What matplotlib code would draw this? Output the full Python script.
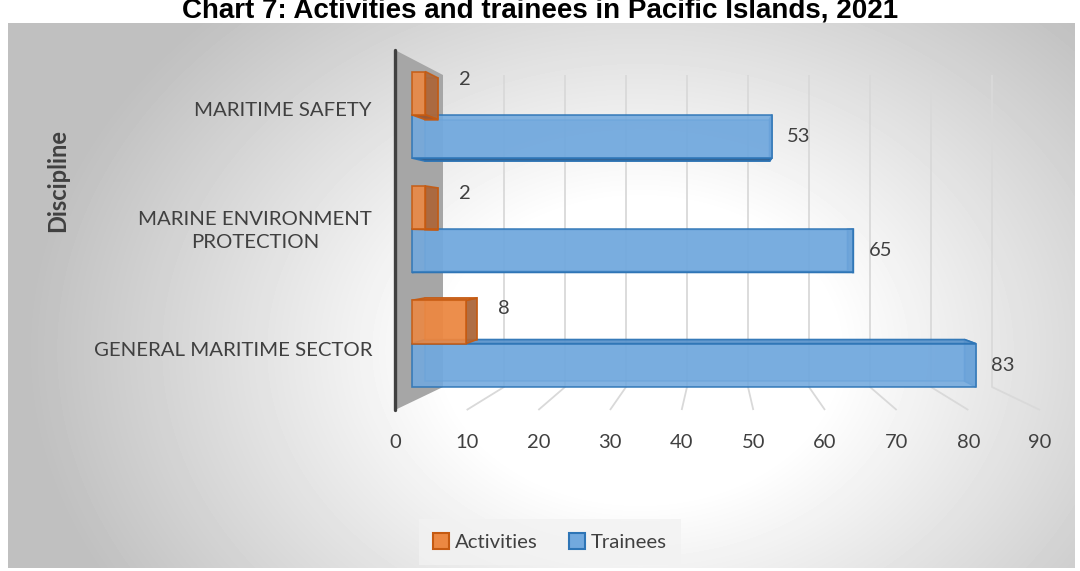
import numpy as np
import matplotlib.pyplot as plt
from matplotlib.patches import Polygon, Patch

# data
categories = ["GENERAL MARITIME SECTOR", "MARINE ENVIRONMENT\nPROTECTION", "MARITIME SAFETY"]
activities = [8, 2, 2]
trainees = [83, 65, 53]
series_names = ["Activities", "Trainees"]
x_ticks = [0, 10, 20, 30, 40, 50, 60, 70, 80, 90]
title = "Chart 7: Activities and trainees in Pacific Islands, 2021"

plt.rcParams['font.family'] = ['Lato', 'DejaVu Sans']

W, H = 1080, 571
fig = plt.figure(figsize=(W / 100, H / 100), dpi=100)
ax = fig.add_axes([0, 0, 1, 1])
ax.set_xlim(0, W)
ax.set_ylim(H, 0)
ax.axis('off')

# chart area with radial grey gradient
gx0, gx1, gy0, gy1 = 8, 1075, 23, 568
yy, xx = np.mgrid[gy0:gy1, gx0:gx1]
r = np.sqrt(((xx - 640) / 560.0) ** 2 + ((yy - 350) / 430.0) ** 2)
shade = 1.0 - 0.25 * np.clip((r - 0.35) / 0.75, 0, 1)
ax.imshow(shade, cmap='gray', vmin=0, vmax=1, extent=[gx0, gx1, gy1, gy0],
          aspect='auto', zorder=0, interpolation='bilinear')
ax.set_xlim(0, W)
ax.set_ylim(H, 0)

XMAX = x_ticks[-1]


def proj(v, u, d):
    # v = value, u = 0..1 along the category axis, d = depth (0 front, 1 back)
    x0 = 395 + 48 * d
    sx = (645 - 96 * d) / XMAX
    yb = 410 - 23 * d
    h = 360 - 48 * d
    return (x0 + v * sx, yb - u * h)


def poly(pts, **kw):
    ax.add_patch(Polygon([proj(*p) for p in pts], closed=True, **kw))


# side wall
poly([(0, 0, 0), (0, 0, 1), (0, 1, 1), (0, 1, 0)], facecolor='#a6a6a6',
     edgecolor='none', zorder=1)

# gridlines on back wall and floor
for v in x_ticks[1:]:
    xb, yb = proj(v, 0, 1)
    xt, yt = proj(v, 1, 1)
    xf, yf = proj(v, 0, 0)
    ax.plot([xt, xb, xf], [yt, yb, yf], color='#d9d9d9', lw=1.3, zorder=1,
            solid_capstyle='butt')

xa, ya = proj(0, 1, 0)
xb_, yb_ = proj(0, 0, 0)
ax.plot([xa, xb_], [ya, yb_], color='#404040', lw=2.4, zorder=2,
        solid_capstyle='round')

for v in x_ticks:
    ax.text(proj(v, 0, 0)[0], 442, str(v), ha='center', va='center',
            fontsize=14.5, color='#404040')

# bars
d1, d2 = 0.35, 0.625
gap, bw = 0.044, 0.126
styles = {
    "Trainees": dict(front='#72a9de', top='#5d95cc', side='#4a7fb5',
                     bottom='#2d5f91', edge='#2e75b6'),
    "Activities": dict(front='#ec8842', top='#d5773a', side='#a8663c',
                       bottom='#9a5530', edge='#c55a11'),
}


def draw_box(v, u0, u1, st, z):
    kw = dict(edgecolor=st['edge'], lw=1.2, zorder=z)
    poly([(0, u0, d2), (v, u0, d2), (v, u1, d2), (0, u1, d2)],
         facecolor=st['front'], alpha=0.55, **kw)
    poly([(v, u0, d1), (v, u0, d2), (v, u1, d2), (v, u1, d1)],
         facecolor=st['side'], alpha=0.9, **kw)
    ufront = proj(v, u1, d1)[1]
    uback = proj(v, u1, d2)[1]
    if uback <= ufront:
        poly([(0, u1, d1), (v, u1, d1), (v, u1, d2), (0, u1, d2)],
             facecolor=st['top'], alpha=0.9, **kw)
    else:
        poly([(0, u0, d1), (v, u0, d1), (v, u0, d2), (0, u0, d2)],
             facecolor=st['bottom'], alpha=0.95, **kw)
    poly([(0, u0, d1), (v, u0, d1), (v, u1, d1), (0, u1, d1)],
         facecolor=st['front'], alpha=0.88, **kw)


for i in range(len(categories)):
    base = i / 3.0
    ub0, ub1 = base + gap, base + gap + bw
    uo0, uo1 = ub1, ub1 + bw
    draw_box(trainees[i], ub0, ub1, styles["Trainees"], 3 + i * 2)
    draw_box(activities[i], uo0, uo1, styles["Activities"], 4 + i * 2)

    xl, yl = proj(trainees[i], (ub0 + ub1) / 2, d1)
    ax.text(xl + 27, yl, str(trainees[i]), ha='center', va='center',
            fontsize=14.5, color='#404040', zorder=20)
    xo, _ = proj(activities[i], uo1, d2)
    _, yo = proj(activities[i], uo1, d1)
    ax.text(xo + 27, yo + 8, str(activities[i]), ha='center', va='center',
            fontsize=14.5, color='#404040', zorder=20)

    ax.text(372, proj(0, base + 1 / 6.0, 0)[1] + 1, categories[i], ha='right',
            va='center', multialignment='center', linespacing=1.45,
            fontsize=14.7, color='#404040')

ax.text(58, 181, "Discipline", rotation=90, ha='center', va='center',
        fontsize=17, fontweight='bold', color='#404040')

ax.text(540, 17, title, ha='center', va='baseline', fontsize=20,
        fontweight='bold', color='black',
        family=['Liberation Sans Narrow', 'Liberation Sans', 'DejaVu Sans'])

handles = [Patch(facecolor=styles[s]['front'], edgecolor=styles[s]['edge'], lw=1.5)
           for s in series_names]
leg = ax.legend(handles, series_names, loc='center', ncol=2,
                bbox_to_anchor=(550 / W, 1 - 542 / H), frameon=True,
                fontsize=14.7, handlelength=0.8, handleheight=0.8,
                handletextpad=0.3, columnspacing=1.5, borderpad=0.7,
                fancybox=False, labelcolor='#404040')
leg.get_frame().set_facecolor('#f2f2f2')
leg.get_frame().set_edgecolor('none')

fig.savefig("out.png", dpi=100)
